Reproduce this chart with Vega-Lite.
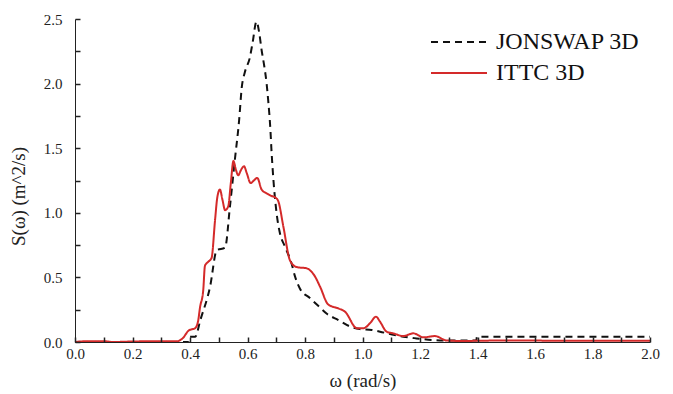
{
  "$schema": "https://vega.github.io/schema/vega-lite/v6.json",
  "width": 575,
  "height": 323,
  "autosize": "none",
  "padding": {"left": 75, "top": 19, "right": 23, "bottom": 52},
  "config": {"view": {"stroke": "transparent"}},
  "data": {"values": [
    {"w": 0.0, "S": 0.0, "series": "JONSWAP 3D"},
    {"w": 0.398, "S": 0.0, "series": "JONSWAP 3D"},
    {"w": 0.399, "S": 0.04, "series": "JONSWAP 3D"},
    {"w": 0.418, "S": 0.04, "series": "JONSWAP 3D"},
    {"w": 0.436, "S": 0.17, "series": "JONSWAP 3D"},
    {"w": 0.47, "S": 0.43, "series": "JONSWAP 3D"},
    {"w": 0.493, "S": 0.71, "series": "JONSWAP 3D"},
    {"w": 0.522, "S": 0.73, "series": "JONSWAP 3D"},
    {"w": 0.539, "S": 1.05, "series": "JONSWAP 3D"},
    {"w": 0.556, "S": 1.41, "series": "JONSWAP 3D"},
    {"w": 0.571, "S": 1.72, "series": "JONSWAP 3D"},
    {"w": 0.58, "S": 1.97, "series": "JONSWAP 3D"},
    {"w": 0.591, "S": 2.09, "series": "JONSWAP 3D"},
    {"w": 0.608, "S": 2.2, "series": "JONSWAP 3D"},
    {"w": 0.618, "S": 2.32, "series": "JONSWAP 3D"},
    {"w": 0.631, "S": 2.48, "series": "JONSWAP 3D"},
    {"w": 0.641, "S": 2.39, "series": "JONSWAP 3D"},
    {"w": 0.649, "S": 2.26, "series": "JONSWAP 3D"},
    {"w": 0.658, "S": 2.14, "series": "JONSWAP 3D"},
    {"w": 0.666, "S": 2.01, "series": "JONSWAP 3D"},
    {"w": 0.672, "S": 1.87, "series": "JONSWAP 3D"},
    {"w": 0.68, "S": 1.63, "series": "JONSWAP 3D"},
    {"w": 0.683, "S": 1.5, "series": "JONSWAP 3D"},
    {"w": 0.69, "S": 1.26, "series": "JONSWAP 3D"},
    {"w": 0.701, "S": 1.0, "series": "JONSWAP 3D"},
    {"w": 0.713, "S": 0.84, "series": "JONSWAP 3D"},
    {"w": 0.73, "S": 0.74, "series": "JONSWAP 3D"},
    {"w": 0.753, "S": 0.61, "series": "JONSWAP 3D"},
    {"w": 0.765, "S": 0.51, "series": "JONSWAP 3D"},
    {"w": 0.783, "S": 0.41, "series": "JONSWAP 3D"},
    {"w": 0.817, "S": 0.34, "series": "JONSWAP 3D"},
    {"w": 0.846, "S": 0.28, "series": "JONSWAP 3D"},
    {"w": 0.875, "S": 0.22, "series": "JONSWAP 3D"},
    {"w": 0.916, "S": 0.17, "series": "JONSWAP 3D"},
    {"w": 0.957, "S": 0.12, "series": "JONSWAP 3D"},
    {"w": 0.991, "S": 0.1, "series": "JONSWAP 3D"},
    {"w": 1.032, "S": 0.093, "series": "JONSWAP 3D"},
    {"w": 1.061, "S": 0.08, "series": "JONSWAP 3D"},
    {"w": 1.096, "S": 0.062, "series": "JONSWAP 3D"},
    {"w": 1.142, "S": 0.041, "series": "JONSWAP 3D"},
    {"w": 1.188, "S": 0.028, "series": "JONSWAP 3D"},
    {"w": 1.246, "S": 0.015, "series": "JONSWAP 3D"},
    {"w": 1.293, "S": 0.012, "series": "JONSWAP 3D"},
    {"w": 1.396, "S": 0.012, "series": "JONSWAP 3D"},
    {"w": 1.398, "S": 0.04, "series": "JONSWAP 3D"},
    {"w": 2.0, "S": 0.04, "series": "JONSWAP 3D"},
    {"w": 0.0, "S": 0.0, "series": "ITTC 3D"},
    {"w": 0.04, "S": 0.006, "series": "ITTC 3D"},
    {"w": 0.1, "S": 0.006, "series": "ITTC 3D"},
    {"w": 0.13, "S": 0.0, "series": "ITTC 3D"},
    {"w": 0.2, "S": 0.004, "series": "ITTC 3D"},
    {"w": 0.3, "S": 0.006, "series": "ITTC 3D"},
    {"w": 0.355, "S": 0.006, "series": "ITTC 3D"},
    {"w": 0.375, "S": 0.03, "series": "ITTC 3D"},
    {"w": 0.396, "S": 0.09, "series": "ITTC 3D"},
    {"w": 0.418, "S": 0.107, "series": "ITTC 3D"},
    {"w": 0.428, "S": 0.16, "series": "ITTC 3D"},
    {"w": 0.435, "S": 0.27, "series": "ITTC 3D"},
    {"w": 0.446, "S": 0.4, "series": "ITTC 3D"},
    {"w": 0.452, "S": 0.59, "series": "ITTC 3D"},
    {"w": 0.463, "S": 0.62, "series": "ITTC 3D"},
    {"w": 0.475, "S": 0.65, "series": "ITTC 3D"},
    {"w": 0.487, "S": 0.94, "series": "ITTC 3D"},
    {"w": 0.495, "S": 1.12, "series": "ITTC 3D"},
    {"w": 0.504, "S": 1.18, "series": "ITTC 3D"},
    {"w": 0.513, "S": 1.1, "series": "ITTC 3D"},
    {"w": 0.522, "S": 1.02, "series": "ITTC 3D"},
    {"w": 0.533, "S": 1.05, "series": "ITTC 3D"},
    {"w": 0.542, "S": 1.23, "series": "ITTC 3D"},
    {"w": 0.551, "S": 1.4, "series": "ITTC 3D"},
    {"w": 0.56, "S": 1.33, "series": "ITTC 3D"},
    {"w": 0.568, "S": 1.29, "series": "ITTC 3D"},
    {"w": 0.577, "S": 1.33, "series": "ITTC 3D"},
    {"w": 0.588, "S": 1.36, "series": "ITTC 3D"},
    {"w": 0.597, "S": 1.31, "series": "ITTC 3D"},
    {"w": 0.611, "S": 1.23, "series": "ITTC 3D"},
    {"w": 0.622, "S": 1.25, "series": "ITTC 3D"},
    {"w": 0.634, "S": 1.27, "series": "ITTC 3D"},
    {"w": 0.649, "S": 1.18, "series": "ITTC 3D"},
    {"w": 0.667, "S": 1.15, "series": "ITTC 3D"},
    {"w": 0.684, "S": 1.13, "series": "ITTC 3D"},
    {"w": 0.696, "S": 1.12, "series": "ITTC 3D"},
    {"w": 0.707, "S": 1.09, "series": "ITTC 3D"},
    {"w": 0.725, "S": 0.89, "series": "ITTC 3D"},
    {"w": 0.748, "S": 0.63, "series": "ITTC 3D"},
    {"w": 0.771, "S": 0.58, "series": "ITTC 3D"},
    {"w": 0.806, "S": 0.57, "series": "ITTC 3D"},
    {"w": 0.834, "S": 0.51, "series": "ITTC 3D"},
    {"w": 0.852, "S": 0.43, "series": "ITTC 3D"},
    {"w": 0.881, "S": 0.29, "series": "ITTC 3D"},
    {"w": 0.916, "S": 0.26, "series": "ITTC 3D"},
    {"w": 0.939, "S": 0.235, "series": "ITTC 3D"},
    {"w": 0.981, "S": 0.106, "series": "ITTC 3D"},
    {"w": 1.003, "S": 0.106, "series": "ITTC 3D"},
    {"w": 1.026, "S": 0.145, "series": "ITTC 3D"},
    {"w": 1.047, "S": 0.196, "series": "ITTC 3D"},
    {"w": 1.061, "S": 0.157, "series": "ITTC 3D"},
    {"w": 1.084, "S": 0.08, "series": "ITTC 3D"},
    {"w": 1.107, "S": 0.067, "series": "ITTC 3D"},
    {"w": 1.142, "S": 0.046, "series": "ITTC 3D"},
    {"w": 1.177, "S": 0.067, "series": "ITTC 3D"},
    {"w": 1.212, "S": 0.036, "series": "ITTC 3D"},
    {"w": 1.252, "S": 0.046, "series": "ITTC 3D"},
    {"w": 1.292, "S": 0.012, "series": "ITTC 3D"},
    {"w": 1.34, "S": 0.008, "series": "ITTC 3D"},
    {"w": 1.5, "S": 0.012, "series": "ITTC 3D"},
    {"w": 1.7, "S": 0.01, "series": "ITTC 3D"},
    {"w": 2.0, "S": 0.01, "series": "ITTC 3D"}
  ]},
  "mark": {"type": "line", "strokeWidth": 2, "interpolate": "monotone"},
  "encoding": {
    "x": {
      "field": "w", "type": "quantitative",
      "scale": {"domain": [0, 2], "nice": false, "zero": false},
      "axis": {
        "zindex": 1,
        "title": "ω (rad/s)",
        "values": [0,0.1,0.2,0.3,0.4,0.5,0.6,0.7,0.8,0.9,1.0,1.1,1.2,1.3,1.4,1.5,1.6,1.7,1.8,1.9,2.0],
        "labelExpr": "round(datum.value*10)%2==0 ? format(datum.value,'.1f') : ''",
        "labelFlush": false,
        "grid": false,
        "tickSize": -5,
        "tickWidth": 1.5,
        "tickColor": "#222222",
        "domainColor": "#222222",
        "labelFont": "Liberation Serif",
        "labelFontSize": 15,
        "labelColor": "#222222",
        "labelPadding": 9,
        "titleFont": "Liberation Serif",
        "titleFontSize": 19,
        "titleFontWeight": "normal",
        "titleColor": "#222222",
        "titlePadding": 10
      }
    },
    "y": {
      "field": "S", "type": "quantitative",
      "scale": {"domain": [0, 2.5], "nice": false},
      "axis": {
        "zindex": 1,
        "title": "S(ω) (m^2/s)",
        "values": [0,0.25,0.5,0.75,1.0,1.25,1.5,1.75,2.0,2.25,2.5],
        "labelExpr": "round(datum.value*4)%2==0 ? format(datum.value,'.1f') : ''",
        "labelFlush": false,
        "grid": false,
        "tickSize": -5,
        "tickWidth": 1.5,
        "tickColor": "#222222",
        "domainColor": "#222222",
        "labelFont": "Liberation Serif",
        "labelFontSize": 15,
        "labelColor": "#222222",
        "labelPadding": 18,
        "titleFont": "Liberation Serif",
        "titleFontSize": 19,
        "titleFontWeight": "normal",
        "titleColor": "#222222",
        "titlePadding": 15,
        "titleY": 177
      }
    },
    "color": {
      "field": "series", "type": "nominal",
      "scale": {"domain": ["JONSWAP 3D", "ITTC 3D"], "range": ["#111111", "#d42a2a"]},
      "legend": {
        "title": null,
        "orient": "none",
        "legendX": 372,
        "legendY": 11,
        "padding": 0,
        "symbolType": "M-4,0H4",
        "symbolSize": 196,
        "symbolStrokeWidth": 2,
        "labelOffset": 25,
        "labelFont": "Liberation Serif",
        "labelFontSize": 24,
        "labelColor": "#111111",
        "rowPadding": 7
      }
    },
    "strokeDash": {
      "field": "series", "type": "nominal",
      "scale": {"domain": ["JONSWAP 3D", "ITTC 3D"], "range": [[7, 5], [1, 0]]},
      "legend": {
        "title": null,
        "orient": "none",
        "legendX": 372,
        "legendY": 11,
        "padding": 0,
        "symbolType": "M-4,0H4",
        "symbolSize": 196,
        "symbolStrokeWidth": 2,
        "labelOffset": 25,
        "labelFont": "Liberation Serif",
        "labelFontSize": 24,
        "labelColor": "#111111",
        "rowPadding": 7
      }
    }
  }
}
